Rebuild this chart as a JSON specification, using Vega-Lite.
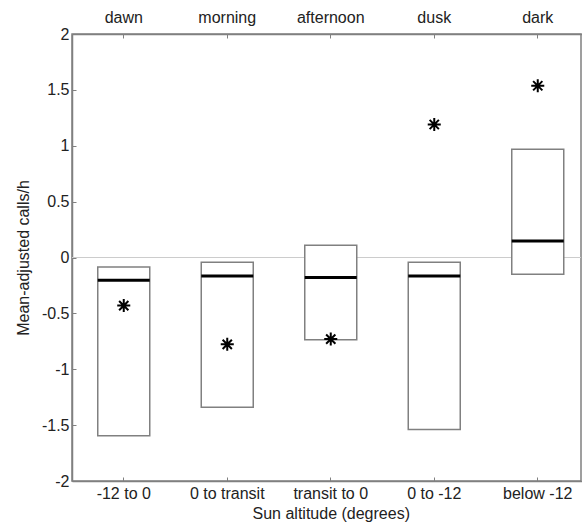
{
  "$schema": "https://vega.github.io/schema/vega-lite/v6.json",
  "autosize": {"type": "none"},
  "padding": {"left": 72, "top": 34, "right": 1, "bottom": 48},
  "width": 509,
  "height": 447,
  "config": {
    "font": "Liberation Sans",
    "view": {"stroke": "#808080", "strokeWidth": 1.5},
    "axis": {
      "domainColor": "#808080", "domainWidth": 1.5,
      "tickColor": "#808080", "tickWidth": 1, "tickSize": -4,
      "labelFont": "Liberation Sans", "labelFontSize": 16, "labelColor": "#222222",
      "titleFont": "Liberation Sans", "titleFontSize": 16, "titleColor": "#222222", "titleFontWeight": "normal",
      "grid": false
    }
  },
  "data": {
    "values": [
      {"sun": "-12 to 0", "period": "dawn", "low": -1.595, "high": -0.085, "median": -0.204, "mean": -0.43},
      {"sun": "0 to transit", "period": "morning", "low": -1.34, "high": -0.043, "median": -0.166, "mean": -0.777},
      {"sun": "transit to 0", "period": "afternoon", "low": -0.735, "high": 0.11, "median": -0.18, "mean": -0.73},
      {"sun": "0 to -12", "period": "dusk", "low": -1.54, "high": -0.043, "median": -0.166, "mean": 1.19},
      {"sun": "below -12", "period": "dark", "low": -0.15, "high": 0.968, "median": 0.148, "mean": 1.537}
    ]
  },
  "layer": [
    {
      "mark": {"type": "rule", "color": "#cccccc", "strokeWidth": 1},
      "encoding": {"y": {"datum": 0, "type": "quantitative"}}
    },
    {
      "mark": {"type": "bar", "fill": "white", "stroke": "#808080", "strokeWidth": 1.5, "size": 52},
      "encoding": {
        "x": {"field": "sun", "type": "nominal", "sort": null,
              "scale": {"range": [0, 517.5], "paddingInner": 0, "paddingOuter": 0},
              "axis": {"orient": "bottom", "title": "Sun altitude (degrees)", "labelAngle": 0, "labelPadding": 8, "titlePadding": 4}},
        "y": {"field": "low", "type": "quantitative",
              "scale": {"domain": [-2, 2], "nice": false, "zero": false},
              "axis": {"values": [-2, -1.5, -1, -0.5, 0, 0.5, 1, 1.5, 2], "labelExpr": "toString(datum.value)", "title": "Mean-adjusted calls/h", "labelPadding": 7, "titlePadding": 10}},
        "y2": {"field": "high"}
      }
    },
    {
      "mark": {"type": "tick", "color": "black", "thickness": 3, "size": 52, "opacity": 1},
      "encoding": {
        "x": {"field": "sun", "type": "nominal", "sort": null,
              "axis": {"orient": "top", "title": null, "labelAngle": 0, "labelPadding": 13,
                       "labelExpr": "{'-12 to 0': 'dawn', '0 to transit': 'morning', 'transit to 0': 'afternoon', '0 to -12': 'dusk', 'below -12': 'dark'}[datum.value]"}},
        "y": {"field": "median", "type": "quantitative"}
      }
    },
    {
      "mark": {"type": "point", "shape": "M-1,0L1,0M0,-1L0,1M-0.71,-0.71L0.71,0.71M-0.71,0.71L0.71,-0.71", "stroke": "black", "strokeWidth": 2, "size": 170, "opacity": 1, "filled": false},
      "encoding": {
        "x": {"field": "sun", "type": "nominal", "sort": null, "axis": null},
        "y": {"field": "mean", "type": "quantitative"}
      }
    }
  ],
  "resolve": {"axis": {"x": "independent"}}
}
